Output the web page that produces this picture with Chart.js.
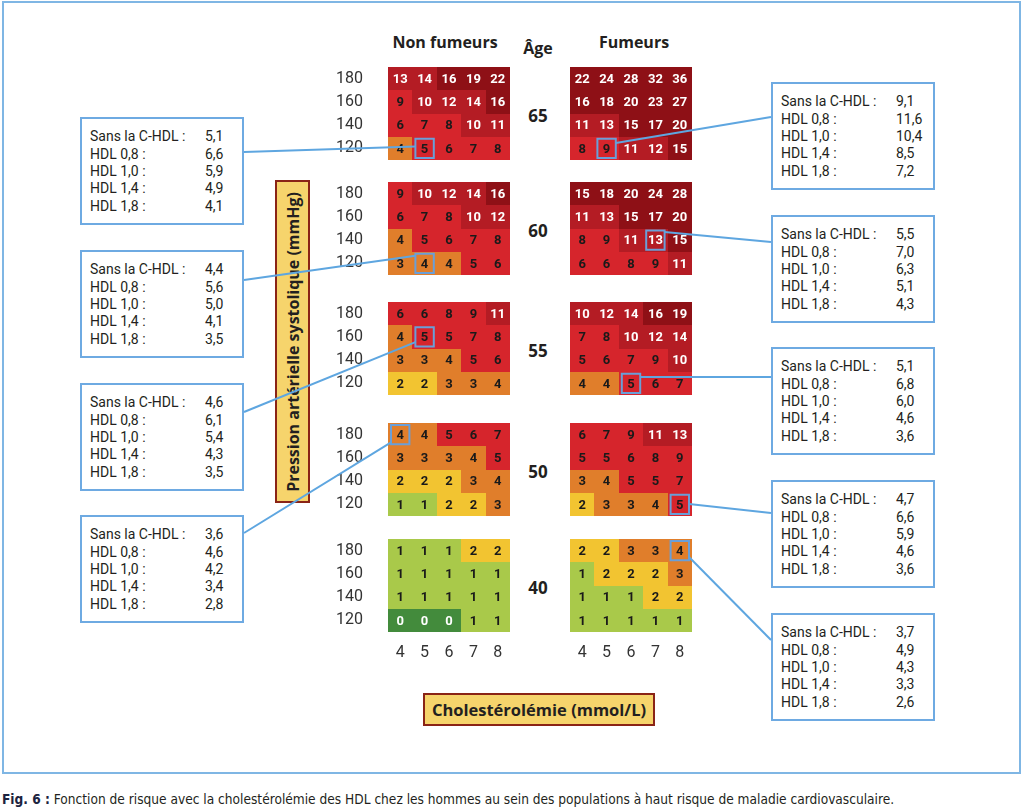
<!DOCTYPE html>
<html lang="fr">
<head>
<meta charset="utf-8">
<title>Fonction de risque avec la cholestérolémie des HDL</title>
<script src="https://cdn.jsdelivr.net/npm/chart.js@4.4.1/dist/chart.umd.min.js"></script>
<style>
  html, body { margin: 0; padding: 0; background: #fff; }
  body { position: relative; width: 1024px; height: 809px; overflow: hidden;
         font-family: Roboto, "DejaVu Sans", sans-serif; color: #231f20; }
  .abs { position: absolute; }
  .frame { left: 2px; top: 1px; width: 1015px; height: 769px; border: 2px solid #7fb6e4; }
  .ctr { transform: translate(-50%, -50%); white-space: nowrap; font-weight: 700; font-family: "Open Sans", Roboto, sans-serif; }
  .hdr { font-size: 16px; }
  .age { font-size: 17px; }
  .titlebox { box-sizing: border-box; border: 2px solid #8a2416; background: #f6d46c;
              display: flex; align-items: center; justify-content: center;
              font-family: "Open Sans", Roboto, sans-serif;
              font-weight: 700; font-size: 16.5px; white-space: nowrap; }
  .vtext { writing-mode: vertical-rl; transform: rotate(180deg); font-size: 16px; }
  .box { box-sizing: border-box; width: 164px; height: 108px; border: 2px solid #6eaae2; background: #fff; }
  .box .row { position: absolute; left: 8px; height: 17px; line-height: 17px; font-size: 14px; white-space: nowrap; }
  .box .val { position: absolute; left: 115px; }
  .caption { left: 2px; top: 790px; font-family: "DejaVu Sans Condensed", "DejaVu Sans", sans-serif;
             font-stretch: condensed; font-size: 13.6px; line-height: 18px; white-space: nowrap; }
  .caption b { color: #1c2340; }
  canvas { position: absolute; }
  #links { left: 0; top: 0; pointer-events: none; z-index: 5; }
</style>
</head>
<body>
<div class="abs frame"></div>

<div class="abs ctr hdr" style="left:445px; top:42px;">Non fumeurs</div>
<div class="abs ctr hdr" style="left:538px; top:48px;">Âge</div>
<div class="abs ctr hdr" style="left:634px; top:42px;">Fumeurs</div>

<div class="abs titlebox" style="left:275px; top:180px; width:35px; height:323px;">
  <span class="vtext">Pression artérielle systolique (mmHg)</span>
</div>
<div class="abs titlebox" style="left:423px; top:693px; width:232px; height:33px;">Cholestérolémie (mmol/L)</div>

<div class="abs caption"><b>Fig. 6 :</b> Fonction de risque avec la cholestérolémie des HDL chez les hommes au sein des populations à haut risque de maladie cardiovasculaire.</div>

<canvas id="links" width="1024" height="809"></canvas>

<script>
// axes
const CHOLESTEROL = ['4', '5', '6', '7', '8'];
const SYSTOLIC = ['180', '160', '140', '120'];
const AGES = ['65', '60', '55', '50', '40'];

// risque à 10 ans (%), par âge : lignes 180 -> 120, colonnes 4 -> 8
const NON_FUMEURS = [
  [[13, 14, 16, 19, 22], [9, 10, 12, 14, 16], [6, 7, 8, 10, 11], [4, 5, 6, 7, 8]],
  [[9, 10, 12, 14, 16], [6, 7, 8, 10, 12], [4, 5, 6, 7, 8], [3, 4, 4, 5, 6]],
  [[6, 6, 8, 9, 11], [4, 5, 5, 7, 8], [3, 3, 4, 5, 6], [2, 2, 3, 3, 4]],
  [[4, 4, 5, 6, 7], [3, 3, 3, 4, 5], [2, 2, 2, 3, 4], [1, 1, 2, 2, 3]],
  [[1, 1, 1, 2, 2], [1, 1, 1, 1, 1], [1, 1, 1, 1, 1], [0, 0, 0, 1, 1]]
];
const FUMEURS = [
  [[22, 24, 28, 32, 36], [16, 18, 20, 23, 27], [11, 13, 15, 17, 20], [8, 9, 11, 12, 15]],
  [[15, 18, 20, 24, 28], [11, 13, 15, 17, 20], [8, 9, 11, 13, 15], [6, 6, 8, 9, 11]],
  [[10, 12, 14, 16, 19], [7, 8, 10, 12, 14], [5, 6, 7, 9, 10], [4, 4, 5, 6, 7]],
  [[6, 7, 9, 11, 13], [5, 5, 6, 8, 9], [3, 4, 5, 5, 7], [2, 3, 3, 4, 5]],
  [[2, 2, 3, 3, 4], [1, 2, 2, 2, 3], [1, 1, 1, 2, 2], [1, 1, 1, 1, 1]]
];

// encadrés
const HDL_LIGNES = ['Sans la C-HDL :', 'HDL 0,8 :', 'HDL 1,0 :', 'HDL 1,4 :', 'HDL 1,8 :'];
const ENCADRES_NF = [
  [5.1, 6.6, 5.9, 4.9, 4.1],
  [4.4, 5.6, 5.0, 4.1, 3.5],
  [4.6, 6.1, 5.4, 4.3, 3.5],
  [3.6, 4.6, 4.2, 3.4, 2.8]
];
const ENCADRES_F = [
  [9.1, 11.6, 10.4, 8.5, 7.2],
  [5.5, 7.0, 6.3, 5.1, 4.3],
  [5.1, 6.8, 6.0, 4.6, 3.6],
  [4.7, 6.6, 5.9, 4.6, 3.6],
  [3.7, 4.9, 4.3, 3.3, 2.6]
];
// cellule visée par chaque encadré : [âge, ligne, colonne]
const CIBLES_NF = [[0, 3, 1], [1, 3, 1], [2, 1, 1], [3, 0, 0]];
const CIBLES_F = [[0, 3, 1], [1, 2, 3], [2, 3, 2], [3, 3, 4], [4, 0, 4]];

// mise en page
const GRID_TOP = [67, 182, 302, 423, 539];
const GRID_H = 93, GRID_W = 122;
const NF_LEFT = 388, F_LEFT = 570;
const YAXIS_W = 58, XAXIS_H = 34;
const BOX_NF = { left: 80, tops: [117, 250, 383, 515], attach: [35, 30, 29, 18], anchor: [0.4, 0.1, 0.77, 0.9] };
const BOX_F = { left: 771, tops: [82, 215, 347, 480, 613], attach: [35, 27, 30, 33, 27], anchor: [0.22, 0.08, 0.17, 0.48, 0.83] };

function riskColor(v) {
  if (v >= 15) return '#8e1016';
  if (v >= 10) return '#b41c24';
  if (v >= 5) return '#d6252c';
  if (v >= 3) return '#e07e2b';
  if (v >= 2) return '#f2c431';
  if (v >= 1) return '#a9c94a';
  return '#438b3c';
}

const cellPlugin = {
  id: 'cells',
  beforeDatasetsDraw(chart, args, opts) {
    const ctx = chart.ctx;
    const xs = chart.scales.x, ys = chart.scales.y;
    const w = xs.getPixelForValue(1) - xs.getPixelForValue(0);
    const h = ys.getPixelForValue(1) - ys.getPixelForValue(0);
    const pts = chart.data.datasets[0].data;
    const els = chart.getDatasetMeta(0).data;
    ctx.save();
    els.forEach((el, i) => {
      const x0 = Math.round(el.x - w / 2), x1 = Math.round(el.x + w / 2);
      const y0 = Math.round(el.y - h / 2), y1 = Math.round(el.y + h / 2);
      ctx.fillStyle = riskColor(pts[i].v);
      ctx.fillRect(x0, y0, x1 - x0, y1 - y0);
    });
    ctx.font = '700 13px Roboto, "DejaVu Sans", sans-serif';
    ctx.textAlign = 'center';
    ctx.textBaseline = 'middle';
    els.forEach((el, i) => {
      const v = pts[i].v;
      ctx.fillStyle = (v >= 10 || v === 0) ? '#ffffff' : '#1a1a1a';
      ctx.fillText(String(v), el.x, el.y + 1);
    });
    if (opts.highlight) {
      const el = els[opts.highlight[0] * CHOLESTEROL.length + opts.highlight[1]];
      ctx.strokeStyle = '#6a9fd8';
      ctx.lineWidth = 2;
      ctx.strokeRect(el.x - w / 2 + 3, el.y - h / 2 + 2, w - 6, h - 4);
    }
    ctx.restore();
  }
};

function makeGrid(values, left, top, showY, showX, highlight) {
  const cv = document.createElement('canvas');
  const width = GRID_W + (showY ? YAXIS_W : 0);
  const height = GRID_H + (showX ? XAXIS_H : 0);
  cv.width = width; cv.height = height;
  cv.style.left = (left - (showY ? YAXIS_W : 0)) + 'px';
  cv.style.top = top + 'px';
  document.body.appendChild(cv);
  const data = [];
  SYSTOLIC.forEach((p, r) => CHOLESTEROL.forEach((c, k) => data.push({ x: c, y: p, v: values[r][k] })));
  const tickFont = { family: 'Roboto, "DejaVu Sans", sans-serif', size: 16 };
  const chart = new Chart(cv, {
    type: 'scatter',
    data: { datasets: [{ data, pointRadius: 0, pointHoverRadius: 0 }] },
    options: {
      responsive: false,
      animation: false,
      events: [],
      layout: { padding: 0 },
      plugins: { legend: { display: false }, tooltip: { enabled: false }, cells: { highlight } },
      scales: {
        x: {
          type: 'category', labels: CHOLESTEROL, offset: true, display: showX,
          grid: { display: false, drawTicks: false }, border: { display: false },
          ticks: { color: '#333', font: tickFont, padding: 11, autoSkip: false, maxRotation: 0 },
          afterFit(s) {
            s.paddingLeft = 0; s.paddingRight = 0;
            if (showX) s.height = XAXIS_H;
          }
        },
        y: {
          type: 'category', labels: SYSTOLIC, offset: true, display: showY,
          grid: { display: false, drawTicks: false }, border: { display: false },
          ticks: { color: '#333', font: tickFont, padding: 25, autoSkip: false },
          afterFit(s) {
            s.paddingTop = 0; s.paddingBottom = 0;
            if (showY) s.width = YAXIS_W;
          }
        }
      }
    },
    plugins: [cellPlugin]
  });
  return { chart, cv };
}

const gridsNF = [], gridsF = [];
AGES.forEach((age, i) => {
  const last = i === AGES.length - 1;
  const hlNF = CIBLES_NF.find(t => t[0] === i);
  const hlF = CIBLES_F.find(t => t[0] === i);
  gridsNF.push(makeGrid(NON_FUMEURS[i], NF_LEFT, GRID_TOP[i], true, last, hlNF ? [hlNF[1], hlNF[2]] : null));
  gridsF.push(makeGrid(FUMEURS[i], F_LEFT, GRID_TOP[i], false, last, hlF ? [hlF[1], hlF[2]] : null));
  const lab = document.createElement('div');
  lab.className = 'abs ctr age';
  lab.style.left = '538px';
  lab.style.top = (GRID_TOP[i] + GRID_H / 2 + 1) + 'px';
  lab.textContent = age;
  document.body.appendChild(lab);
});

const fmt = v => v.toFixed(1).replace('.', ',');
function makeBox(left, top, values) {
  const d = document.createElement('div');
  d.className = 'abs box';
  d.style.left = left + 'px';
  d.style.top = top + 'px';
  HDL_LIGNES.forEach((lab, i) => {
    const r = document.createElement('div');
    r.className = 'row';
    r.style.top = (9.4 + i * 17.3) + 'px';
    r.innerHTML = '<span>' + lab + '</span><span class="val">' + fmt(values[i]) + '</span>';
    d.appendChild(r);
  });
  document.body.appendChild(d);
}
ENCADRES_NF.forEach((vals, i) => makeBox(BOX_NF.left, BOX_NF.tops[i], vals));
ENCADRES_F.forEach((vals, i) => makeBox(BOX_F.left, BOX_F.tops[i], vals));

// traits de liaison encadré -> cellule
function cellEdge(grid, row, col, side, frac) {
  const ch = grid.chart;
  const el = ch.getDatasetMeta(0).data[row * CHOLESTEROL.length + col];
  const w = ch.scales.x.getPixelForValue(1) - ch.scales.x.getPixelForValue(0);
  const h = ch.scales.y.getPixelForValue(1) - ch.scales.y.getPixelForValue(0);
  const ox = parseFloat(grid.cv.style.left), oy = parseFloat(grid.cv.style.top);
  const x = side === 'left' ? el.x - w / 2 + 3 : el.x + w / 2 - 3;
  const y = el.y - h / 2 + 2 + frac * (h - 4);
  return [ox + x, oy + y];
}
const lctx = document.getElementById('links').getContext('2d');
lctx.strokeStyle = '#5ea6e0';
lctx.lineWidth = 2;
function link(a, b) {
  lctx.beginPath();
  lctx.moveTo(a[0], a[1]);
  lctx.lineTo(b[0], b[1]);
  lctx.stroke();
}
CIBLES_NF.forEach((t, i) => {
  const end = cellEdge(gridsNF[t[0]], t[1], t[2], 'left', BOX_NF.anchor[i]);
  link([BOX_NF.left + 164, BOX_NF.tops[i] + BOX_NF.attach[i]], end);
});
CIBLES_F.forEach((t, i) => {
  const end = cellEdge(gridsF[t[0]], t[1], t[2], 'right', BOX_F.anchor[i]);
  link([BOX_F.left, BOX_F.tops[i] + BOX_F.attach[i]], end);
});
</script>
</body>
</html>
